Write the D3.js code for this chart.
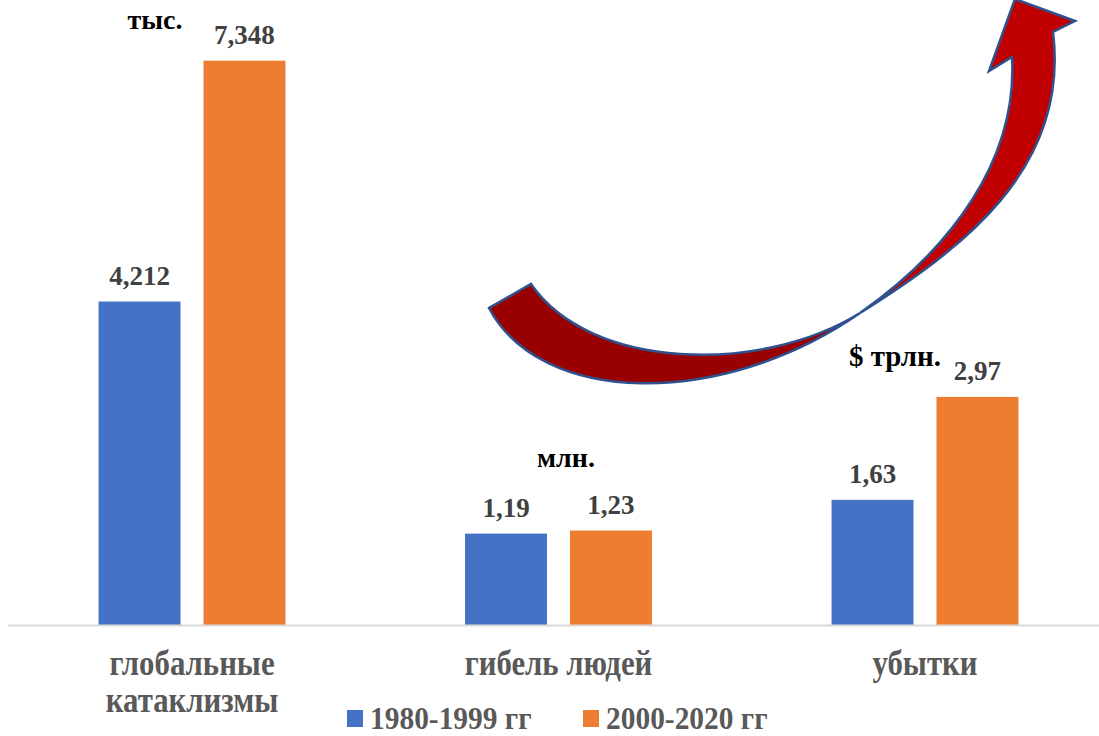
<!DOCTYPE html>
<html>
<head>
<meta charset="utf-8">
<script src="https://cdn.jsdelivr.net/npm/d3@7"></script>
<style>
  html, body { margin: 0; padding: 0; background: #fff; }
  svg { display: block; }
  text { font-family: "Liberation Serif", "Times New Roman", serif; font-weight: bold; }
</style>
</head>
<body>
<div id="chart"></div>
<script>
// chart data
var categories = [["глобальные", "катаклизмы"], ["гибель людей"], ["убытки"]];
var seriesNames = ["1980-1999 гг", "2000-2020 гг"];
var values1980 = [4.212, 1.19, 1.63];
var values2000 = [7.348, 1.23, 2.97];
var valueLabels1980 = ["4,212", "1,19", "1,63"];
var valueLabels2000 = ["7,348", "1,23", "2,97"];
var unitLabels = ["тыс.", "млн.", "$ трлн."];

var colors = ["#4472C4", "#ED7D31"];
var width = 1099, height = 736;
var baseY = 625;

var svg = d3.select("#chart").append("svg")
    .attr("width", width)
    .attr("height", height);

var catKeys = categories.map(d => d.join(" "));

// category band and sub band for the two periods
var x0 = d3.scaleBand()
    .domain(catKeys)
    .range([8.75, 1108.25])
    .paddingInner(0.49)
    .paddingOuter(0.245);

var x1 = d3.scaleBand()
    .domain(seriesNames)
    .range([0, x0.bandwidth()])
    .paddingInner(0.219);

var y = d3.scaleLinear()
    .domain([0, 8])
    .range([baseY, baseY - 8 * 76.8]);

var rows = [];
catKeys.forEach(function(c, i) {
    rows.push({cat: c, s: seriesNames[0], v: values1980[i], label: valueLabels1980[i], color: colors[0]});
    rows.push({cat: c, s: seriesNames[1], v: values2000[i], label: valueLabels2000[i], color: colors[1]});
});

// bars
svg.selectAll("rect.bar")
    .data(rows)
    .enter()
    .append("rect")
    .attr("class", "bar")
    .attr("x", d => x0(d.cat) + x1(d.s))
    .attr("y", d => y(d.v))
    .attr("width", x1.bandwidth())
    .attr("height", d => y(0) - y(d.v))
    .attr("fill", d => d.color);

// value labels
svg.selectAll("text.val")
    .data(rows)
    .enter()
    .append("text")
    .attr("class", "val")
    .attr("x", d => x0(d.cat) + x1(d.s) + x1.bandwidth() / 2)
    .attr("y", d => y(d.v) - 17)
    .attr("text-anchor", "middle")
    .attr("font-size", 27)
    .attr("fill", "#404040")
    .text(d => d.label);

// axis line
svg.append("line")
    .attr("x1", 8)
    .attr("x2", width)
    .attr("y1", y(0) + 0.5)
    .attr("y2", y(0) + 0.5)
    .attr("stroke", "#d9d9d9")
    .attr("stroke-width", 2);

// category labels (slightly condensed like the original)
var catG = svg.selectAll("g.cat")
    .data(categories)
    .enter()
    .append("g")
    .attr("class", "cat")
    .attr("transform", (d, i) => "translate(" + (x0(catKeys[i]) + x0.bandwidth() / 2) + ",675) scale(0.88,1)");

catG.selectAll("text")
    .data(d => d)
    .enter()
    .append("text")
    .attr("y", (d, j) => j * 37)
    .attr("text-anchor", "middle")
    .attr("font-size", 35)
    .attr("fill", "#595959")
    .text(d => d);

// unit labels
var unitPos = [[155, 29], [566, 467], [895, 366]];
svg.selectAll("text.unit")
    .data(unitLabels)
    .enter()
    .append("text")
    .attr("class", "unit")
    .attr("x", (d, i) => unitPos[i][0])
    .attr("y", (d, i) => unitPos[i][1])
    .attr("text-anchor", "middle")
    .attr("font-size", (d, i) => i == 2 ? 29 : 28)
    .attr("fill", "#000")
    .text(d => d);

// decorative twisted arrow
var arrowDark = "M489,308 C540,405 720,410 860,313 C760,375 590,370 531,284 Z";
var arrowBright = "M860,313 C960,250 1070,170 1053,32 L1075,21 L1015,-1 L989,71 L1012,57 C1018,160 950,250 860,313 Z";
var arrowG = svg.append("g").attr("class", "arrow");
arrowG.append("path")
    .attr("d", arrowDark)
    .attr("fill", "#990000")
    .attr("stroke", "#2F528F")
    .attr("stroke-width", 2.5)
    .attr("stroke-linejoin", "miter");
arrowG.append("path")
    .attr("d", arrowBright)
    .attr("fill", "#C00000")
    .attr("stroke", "#2F528F")
    .attr("stroke-width", 2.5)
    .attr("stroke-linejoin", "miter");

// legend
var legendX = [347, 583];
var leg = svg.selectAll("g.leg")
    .data(seriesNames)
    .enter()
    .append("g")
    .attr("class", "leg")
    .attr("transform", (d, i) => "translate(" + legendX[i] + ",0)");

leg.append("rect")
    .attr("x", 0)
    .attr("y", 710)
    .attr("width", 16)
    .attr("height", 17)
    .attr("fill", (d, i) => colors[i]);

leg.append("text")
    .attr("transform", "translate(23,729) scale(0.92,1)")
    .attr("font-size", 32)
    .attr("fill", "#595959")
    .text(d => d);
</script>
</body>
</html>
